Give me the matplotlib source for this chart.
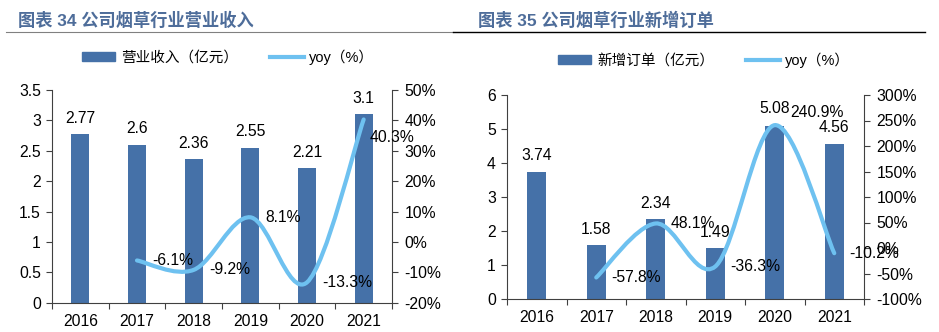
import numpy as np
import matplotlib
matplotlib.use('Agg')
import matplotlib.pyplot as plt
from matplotlib.path import Path
from matplotlib.patches import PathPatch, Patch
from matplotlib.lines import Line2D

plt.rcParams['font.family'] = ['Liberation Sans', 'Noto Sans CJK SC']

# 数据
years = ['2016', '2017', '2018', '2019', '2020', '2021']
revenue = [2.77, 2.6, 2.36, 2.55, 2.21, 3.1]          # 营业收入（亿元）
revenue_yoy = [-6.1, -9.2, 8.1, -13.3, 40.3]          # 2017-2021
orders = [3.74, 1.58, 2.34, 1.49, 5.08, 4.56]         # 新增订单（亿元）
orders_yoy = [-57.8, 48.1, -36.3, 240.9, -10.2]       # 2017-2021

BAR = '#4571A8'
LINE = '#6EC1F0'
TITLE = '#4E6D9A'
FS = 11.3


# Excel 风格的平滑曲线（贝塞尔）
def smooth_path(xs, ys):
    pts = np.column_stack([xs, ys]).astype(float)
    n = len(pts)
    verts = [pts[0]]
    codes = [Path.MOVETO]
    for i in range(n - 1):
        p0 = pts[max(i - 1, 0)]
        p1 = pts[i]
        p2 = pts[i + 1]
        p3 = pts[min(i + 2, n - 1)]
        verts += [p1 + (p2 - p0) / 6, p2 - (p3 - p1) / 6, p2]
        codes += [Path.CURVE4] * 3
    return Path(verts, codes)


def draw_panel(rect, values, yoy, ylim, ytick_step, y2lim, y2tick_step, fmt,
               yoy_offsets, bar_offsets):
    ax = fig.add_axes(rect)
    x = np.arange(len(years))
    ax.bar(x, values, width=0.32, color=BAR, zorder=2)
    ax.set_xlim(-0.5, len(years) - 0.5)
    ax.set_ylim(*ylim)
    ax.set_yticks(np.arange(ylim[0], ylim[1] + 1e-9, ytick_step))
    ax.set_yticklabels([f'{v:g}' for v in ax.get_yticks()])
    ax.set_xticks(np.arange(-0.5, len(years)), labels=[''] * (len(years) + 1))
    ax.set_xticks(x, labels=years, minor=True)
    ax.tick_params(axis='x', which='minor', length=0, labelsize=FS, pad=8)
    ax.tick_params(axis='x', which='major', length=4, direction='out', color='#404040')
    ax.tick_params(axis='y', length=4, direction='out', labelsize=FS, pad=4, color='#404040')
    ax.spines['top'].set_visible(False)
    ax.spines['right'].set_visible(False)
    for s in ('left', 'bottom'):
        ax.spines[s].set_color('#404040')

    ax2 = ax.twinx()
    ax2.set_ylim(*y2lim)
    ax2.set_yticks(np.arange(y2lim[0], y2lim[1] + 1e-9, y2tick_step))
    ax2.set_yticklabels([f'{int(v)}%' for v in ax2.get_yticks()])
    ax2.tick_params(axis='y', length=4, direction='out', labelsize=FS, pad=5, color='#404040')
    for s in ('top', 'left', 'bottom'):
        ax2.spines[s].set_visible(False)
    ax2.spines['right'].set_color('#404040')

    xl = x[1:]
    ax2.add_patch(PathPatch(smooth_path(xl, yoy), fill=False, edgecolor=LINE,
                            lw=3, capstyle='round', zorder=3))

    for xi, v, off in zip(x, values, bar_offsets):
        if off is None:
            ax.annotate(f'{v:g}', (xi, v), xytext=(0, 11.5), textcoords='offset points',
                        ha='center', va='center', fontsize=FS)
        else:
            ax.annotate(f'{v:g}', (xi, v), xytext=off, textcoords='offset points',
                        ha='center', va='center', fontsize=FS,
                        arrowprops=dict(arrowstyle='-', color='#a0a0a0', lw=0.8,
                                        shrinkA=4, shrinkB=0,
                                        connectionstyle='angle,angleA=0,angleB=90,rad=0'))
    for xi, v, off in zip(xl, yoy, yoy_offsets):
        ax2.annotate(fmt(v), (xi, v), xytext=off, textcoords='offset points',
                     ha='left', va='center', fontsize=FS, zorder=4)
    return ax, ax2


fig = plt.figure(figsize=(9.39, 3.32), dpi=100)

# 标题与分隔线
fig.text(18 / 939, 1 - 20 / 332, '图表 34 公司烟草行业营业收入', fontsize=12.4,
         fontweight='bold', color=TITLE, va='center', ha='left')
fig.text(478 / 939, 1 - 20 / 332, '图表 35 公司烟草行业新增订单', fontsize=12.4,
         fontweight='bold', color=TITLE, va='center', ha='left')
fig.add_artist(Line2D([6 / 939, 453 / 939], [1 - 32 / 332] * 2,
                      transform=fig.transFigure, color='#808080', lw=0.8))
fig.add_artist(Line2D([453 / 939, 925 / 939], [1 - 32 / 332] * 2,
                      transform=fig.transFigure, color='#000000', lw=1.0))

pct = lambda v: f'{v:.1f}%'
d = 11
draw_panel([52 / 939, 29.3 / 332, 340 / 939, 212.7 / 332], revenue, revenue_yoy,
           (0, 3.5), 0.5, (-20, 50), 10, pct,
           [(d, 0), (d, 0), (d, 0), (d, 0), (4, -13)],
           [None] * 6)
draw_panel([507 / 939, 33 / 332, 357 / 939, 204 / 332], orders, orders_yoy,
           (0, 6), 1, (-100, 300), 50, pct,
           [(d, 0), (d, 0), (d, 0), (d, 9), (d, 0)],
           [None, None, None, None, (0, 13), None])

# 图例
handles = [Patch(color=BAR), Line2D([], [], color=LINE, lw=3)]
fig.legend(handles, ['营业收入（亿元）', 'yoy（%）'], loc='center',
           bbox_to_anchor=(228 / 939, 1 - 57 / 332), ncol=2, frameon=False,
           fontsize=10.5, handlelength=2.3, handleheight=0.5, handletextpad=0.4,
           columnspacing=2.2)
fig.legend(handles, ['新增订单（亿元）', 'yoy（%）'], loc='center',
           bbox_to_anchor=(704 / 939, 1 - 60 / 332), ncol=2, frameon=False,
           fontsize=10.5, handlelength=2.3, handleheight=0.5, handletextpad=0.4,
           columnspacing=2.2)

fig.savefig('out.png', dpi=100)
